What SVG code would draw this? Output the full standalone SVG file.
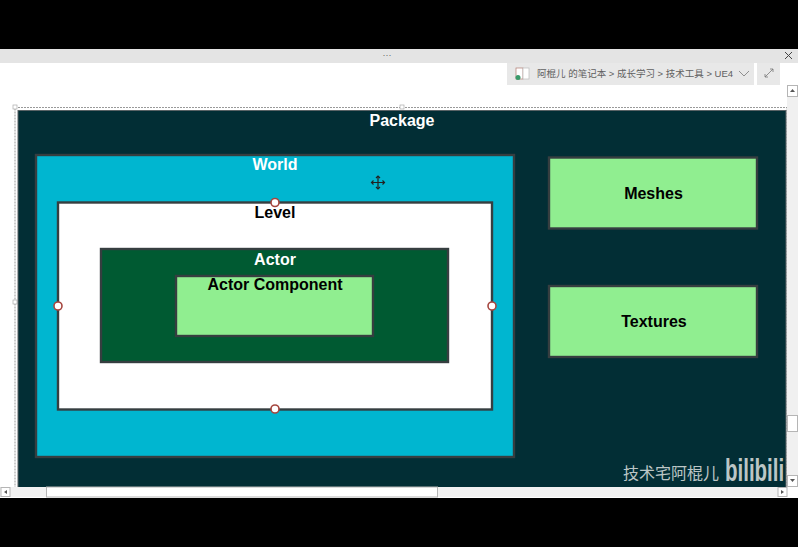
<svg xmlns="http://www.w3.org/2000/svg" width="798" height="547" viewBox="0 0 798 547">
<style>
text{font-family:"Liberation Sans","Noto Sans CJK SC",sans-serif}
.t{font-size:16px;font-weight:700;text-anchor:middle}
.w{fill:#fff}.k{fill:#000}
.b{stroke:#363e40;stroke-width:2.400}
.h{fill:#fff;stroke:#a5463f;stroke-width:1.600}
.ui{font-size:9.500px;fill:#606060}
.sb{fill:#fff;stroke:#b5b5b5;stroke-width:1}
.sel{fill:none;stroke:#999;stroke-width:1;stroke-dasharray:2 1}
</style>
<rect width="798" height="547" fill="#000"/>
<rect x="0" y="49" width="798" height="449" fill="#fff"/>
<rect x="0" y="49" width="798" height="14" fill="#e4e4e4"/>
<text x="387" y="58" font-size="9" fill="#666" text-anchor="middle">···</text>
<path d="M785 52l7 7M792 52l-7 7" stroke="#444" stroke-width="1" fill="none"/>
<g id="breadcrumb">
<rect x="507" y="63" width="247" height="22" fill="#e8e8e8"/>
<rect x="516" y="68" width="7" height="11" fill="#fff" stroke="#b07a70" stroke-width=".7"/>
<rect x="523" y="68" width="6" height="11" fill="#fff" stroke="#bbb" stroke-width=".7"/>
<circle cx="518" cy="77.500" r="2.500" fill="#3a9a6a"/>
<text class="ui" x="537" y="77">阿棍儿 的笔记本 &gt; 成长学习 &gt; 技术工具 &gt; UE4</text>
<path d="M739 71l5 5 5-5" fill="none" stroke="#777" stroke-width=".8"/>
<rect x="757" y="63" width="23" height="22" fill="#e8e8e8"/>
<path d="M765 77l8-8M770 69h3v3M765 74v3h3" fill="none" stroke="#777" stroke-width=".8"/>
</g>
<g id="selection">
<rect class="sel" x="15" y="107.500" width="772" height="380"/>
<rect x="13" y="105" width="4" height="4" fill="#fff" stroke="#aaa" stroke-width=".7"/>
<rect x="400" y="105" width="4" height="4" fill="#fff" stroke="#aaa" stroke-width=".7"/>
<rect x="13" y="300" width="4" height="4" fill="#fff" stroke="#aaa" stroke-width=".7"/>
</g>
<g id="package">
<rect x="18" y="110.500" width="768" height="380" fill="#022e35" stroke="#5a6366" stroke-width="1"/>
<text class="t w" x="402" y="126">Package</text>
</g>
<g id="world">
<rect class="b" x="36" y="155" width="478" height="302" fill="#00b6d0"/>
<text class="t w" x="275" y="170">World</text>
</g>
<g id="level">
<rect class="b" x="58" y="202.500" width="434" height="207" fill="#fff"/>
<text class="t k" x="275" y="217.500">Level</text>
</g>
<g id="actor">
<rect class="b" x="101" y="249" width="347" height="113" fill="#005a32"/>
<text class="t w" x="275" y="265">Actor</text>
</g>
<g id="actor-component">
<rect class="b" x="176" y="276" width="197" height="60" fill="#90ee90"/>
<text class="t k" x="275" y="290">Actor Component</text>
</g>
<g id="meshes">
<rect class="b" x="549" y="157.500" width="208" height="71" fill="#90ee90"/>
<text class="t k" x="653.500" y="199">Meshes</text>
</g>
<g id="textures">
<rect class="b" x="549" y="286" width="208" height="71" fill="#90ee90"/>
<text class="t k" x="654" y="327">Textures</text>
</g>
<g id="connectors"></g>
<g id="handles">
<circle class="h" cx="275" cy="202.500" r="4"/>
<circle class="h" cx="58" cy="306" r="4"/>
<circle class="h" cx="492" cy="306" r="4"/>
<circle class="h" cx="275" cy="409" r="4"/>
</g>
<g id="cursor" fill="none" stroke="#222" stroke-width="1.200">
<path d="M378 176v13M371.500 182.500h13"/>
<path d="M376 178l2-2 2 2M376 187l2 2 2-2M373.500 180.500l-2 2 2 2M382.500 180.500l2 2-2 2"/>
</g>
<g id="watermark" fill="#bcc6c6">
<text x="623" y="479" font-size="16">技术宅阿棍儿</text>
<text transform="translate(725 481) scale(1 1.550)" font-size="20.500" font-weight="700">bilibili</text>
</g>
<g id="scrollbars">
<rect x="787" y="85" width="11" height="402" fill="#f0f0f0"/>
<rect class="sb" x="787.500" y="85.500" width="10" height="11"/>
<path d="M790 92l2.500-3 2.500 3z" fill="#555"/>
<rect class="sb" x="787.500" y="415.500" width="10" height="16"/>
<rect class="sb" x="787.500" y="475.500" width="10" height="11"/>
<path d="M790 479l2.500 3 2.500-3z" fill="#555"/>
<rect x="0" y="487" width="787" height="10" fill="#f2f2f2"/>
<rect class="sb" x="46.500" y="487" width="391" height="10"/>
<rect class="sb" x="1" y="487.500" width="9" height="9"/>
<path d="M7 490v4l-3-2z" fill="#555"/>
<rect class="sb" x="778" y="487.500" width="9" height="9"/>
<path d="M781 490v4l3-2z" fill="#555"/>
</g>
</svg>
